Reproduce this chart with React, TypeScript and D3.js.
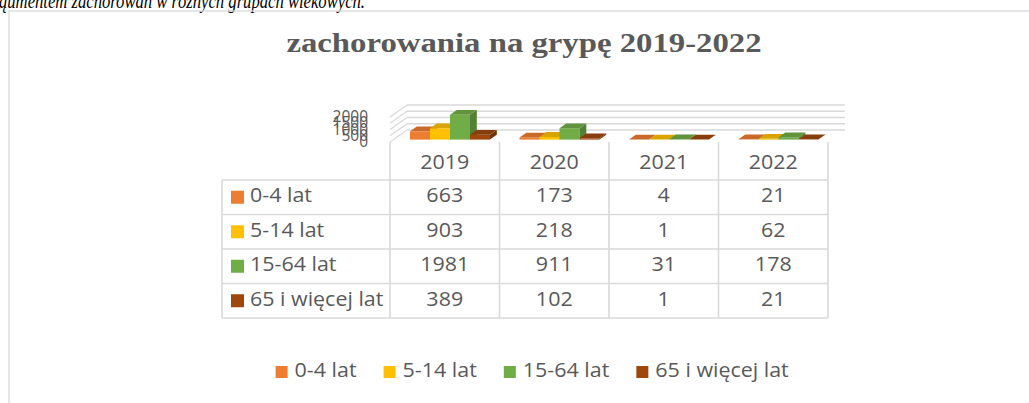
import React from "react";
import * as d3 from "d3";

const years = ["2019", "2020", "2021", "2022"];
const seriesNames = ["0-4 lat", "5-14 lat", "15-64 lat", "65 i więcej lat"];
const v0_4 = [663, 173, 4, 21];
const v5_14 = [903, 218, 1, 62];
const v15_64 = [1981, 911, 31, 178];
const v65 = [389, 102, 1, 21];
const seriesValues = [v0_4, v5_14, v15_64, v65];
const seriesColors = ["#ED7D31", "#FFC000", "#70AD47", "#9E480E"];
const yTicks = [0, 500, 1000, 1500, 2000];
const titleText = "zachorowania na grypę 2019-2022";
const captionText = "ąumentem zachorowań w różnych grupach wiekowych.";

const W = 1029;
const H = 403;
const GRAY = "#595959";
const LINE = "#d9d9d9";
const FONT = "'Open Sans', 'Noto Sans', sans-serif";
const FS = 19.5;
const SX = 1.1;

function Txt(props: any) {
  const { x, y, sx = 1, children, ...rest } = props;
  return (
    <text transform={`translate(${x},${y}) scale(${sx},1)`} {...rest}>
      {children}
    </text>
  );
}

function measure(text: string, font: string): number {
  const c = document.createElement("canvas").getContext("2d");
  if (!c) return text.length * 10;
  c.font = font;
  return c.measureText(text).width;
}

export default function App() {
  const colScale = d3.scaleBand<string>().domain(years).range([390, 828]).padding(0);
  const rowScale = d3.scaleBand<string>().domain(seriesNames).range([180, 318]).padding(0);
  const tableLeft = 222;
  const headerTop = 142;

  const floorFrontY = 142;
  const depth = { dx: 17, dy: -12 };
  const hScale = d3.scaleLinear().domain([0, 2000]).range([0, 25]);
  const barFront = 0.2;
  const barBack = 0.6;
  const barDx = depth.dx * (barBack - barFront);
  const barDy = depth.dy * (barBack - barFront);
  const inner = d3.scaleBand<string>().domain(seriesNames).range([16.6, 96.6]).padding(0);

  const x0 = colScale.range()[0];
  const x1 = colScale.range()[1];

  const bars: any[] = [];
  years.forEach((yr, ci) => {
    seriesNames.forEach((s, si) => {
      const v = seriesValues[si][ci];
      const bx0 = (colScale(yr) as number) + depth.dx * barFront + (inner(s) as number);
      const bx1 = bx0 + inner.bandwidth();
      const yb = floorFrontY + depth.dy * barFront;
      const yt = yb - hScale(v);
      const c = d3.color(seriesColors[si])!;
      const top = c.darker(0.45).toString();
      const side = c.darker(0.85).toString();
      bars.push(
        <g key={`${yr}-${s}`}>
          <rect x={bx0} y={yt} width={bx1 - bx0} height={yb - yt} fill={seriesColors[si]} />
          <polygon
            points={`${bx0},${yt} ${bx1},${yt} ${bx1 + barDx},${yt + barDy} ${bx0 + barDx},${yt + barDy}`}
            fill={top}
          />
          <polygon
            points={`${bx1},${yt} ${bx1 + barDx},${yt + barDy} ${bx1 + barDx},${yb + barDy} ${bx1},${yb}`}
            fill={side}
          />
        </g>
      );
    });
  });

  const legendFont = `${FS}px ${FONT}`;
  let lx = 275.6;
  const legendItems = seriesNames.map((s, i) => {
    const tw = measure(s, legendFont) * SX;
    const item = { x: lx, name: s, color: seriesColors[i] };
    lx += 12 + 7 + tw + 27;
    return item;
  });

  return (
    <svg
      width={W}
      height={H}
      style={{ position: "absolute", left: 0, top: 0, background: "#fff" }}
      xmlns="http://www.w3.org/2000/svg"
    >
      <rect x={0} y={0} width={W} height={H} fill="#fff" />
      <text
        x={-1}
        y={8}
        fontFamily="'Liberation Serif', 'Times New Roman', serif"
        fontStyle="italic"
        fontSize={22}
        fill="#000"
        textLength={366}
        lengthAdjust="spacingAndGlyphs"
      >
        {captionText}
      </text>
      <rect x={9} y={11} width={W + 10} height={H + 10} fill="none" stroke={LINE} strokeWidth={1.3} />

      <Txt
        x={524}
        y={52}
        sx={1.17}
        textAnchor="middle"
        fontFamily="'Liberation Serif', 'Times New Roman', serif"
        fontWeight="bold"
        fontSize={28}
        fill={GRAY}
      >
        {titleText}
      </Txt>

      {yTicks.map((t) => {
        const yf = floorFrontY - hScale(t);
        const yb = yf + depth.dy;
        return (
          <g key={t}>
            <line x1={x0} y1={yf} x2={x0 + depth.dx} y2={yb} stroke={LINE} strokeWidth={1.3} />
            <line x1={x0 + depth.dx} y1={yb} x2={x1 + depth.dx} y2={yb} stroke={LINE} strokeWidth={1.3} />
          </g>
        );
      })}

      {yTicks.map((t) => (
        <Txt
          key={t}
          x={368}
          y={floorFrontY - hScale(t) + 1}
          sx={1.0}
          textAnchor="end"
          dominantBaseline="middle"
          fontFamily={FONT}
          fontSize={15.5}
          fill={GRAY}
        >
          {t}
        </Txt>
      ))}

      {bars}

      {years.map((yr) => (
        <line
          key={"v" + yr}
          x1={colScale(yr)}
          x2={colScale(yr)}
          y1={headerTop}
          y2={rowScale.range()[1]}
          stroke={LINE}
          strokeWidth={1.6}
        />
      ))}
      <line x1={x1} x2={x1} y1={headerTop} y2={rowScale.range()[1]} stroke={LINE} strokeWidth={1.6} />
      <line
        x1={tableLeft}
        x2={tableLeft}
        y1={rowScale.range()[0]}
        y2={rowScale.range()[1]}
        stroke={LINE}
        strokeWidth={1.6}
      />
      {seriesNames.map((s) => (
        <line
          key={"h" + s}
          x1={tableLeft}
          x2={x1}
          y1={rowScale(s)}
          y2={rowScale(s)}
          stroke={LINE}
          strokeWidth={1.6}
        />
      ))}
      <line
        x1={tableLeft}
        x2={x1}
        y1={rowScale.range()[1]}
        y2={rowScale.range()[1]}
        stroke={LINE}
        strokeWidth={1.6}
      />

      {years.map((yr) => (
        <Txt
          key={"hd" + yr}
          x={(colScale(yr) as number) + colScale.bandwidth() / 2}
          y={164}
          sx={SX}
          textAnchor="middle"
          dominantBaseline="middle"
          fontFamily={FONT}
          fontSize={FS}
          fill={GRAY}
        >
          {yr}
        </Txt>
      ))}

      {seriesNames.map((s, si) => {
        const cy = (rowScale(s) as number) + rowScale.bandwidth() / 2;
        return (
          <g key={"row" + s}>
            <rect x={231} y={cy - 6.5} width={13} height={13} fill={seriesColors[si]} />
            <Txt
              x={250}
              y={cy}
              sx={SX}
              dominantBaseline="middle"
              fontFamily={FONT}
              fontSize={FS}
              fill={GRAY}
            >
              {s}
            </Txt>
            {years.map((yr, ci) => (
              <Txt
                key={yr}
                x={(colScale(yr) as number) + colScale.bandwidth() / 2}
                y={cy}
                sx={SX}
                textAnchor="middle"
                dominantBaseline="middle"
                fontFamily={FONT}
                fontSize={FS}
                fill={GRAY}
              >
                {seriesValues[si][ci]}
              </Txt>
            ))}
          </g>
        );
      })}

      {legendItems.map((it) => (
        <g key={"lg" + it.name}>
          <rect x={it.x} y={366} width={12} height={12} fill={it.color} />
          <Txt
            x={it.x + 19}
            y={372}
            sx={SX}
            dominantBaseline="middle"
            fontFamily={FONT}
            fontSize={FS}
            fill={GRAY}
          >
            {it.name}
          </Txt>
        </g>
      ))}
    </svg>
  );
}
